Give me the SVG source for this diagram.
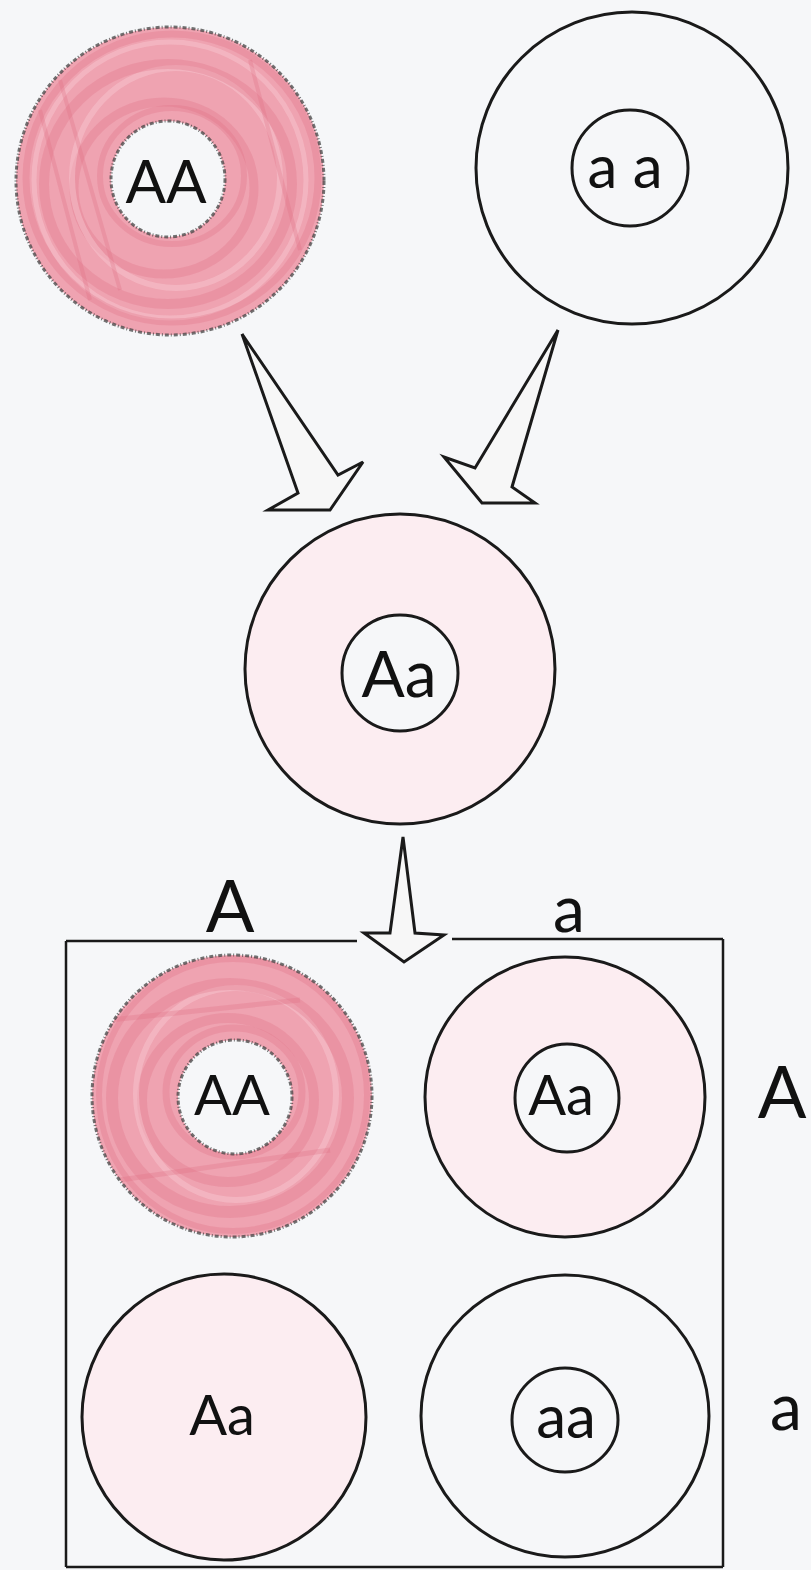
<svg xmlns="http://www.w3.org/2000/svg" width="811" height="1570" viewBox="0 0 811 1570">
<defs>
<style>
.bg{fill:#f6f7f9}
.ol{fill:none;stroke:#1a1a1a;stroke-width:3}
.pale{fill:#fcedf1;stroke:#1a1a1a;stroke-width:3}
.white{fill:#f6f7f9;stroke:#1a1a1a;stroke-width:3}
.red{fill:#efa3b1;fill-rule:evenodd}
.crayon{fill:none;stroke:#de6a80;stroke-opacity:.28}
.hl{fill:none;stroke:#f8c9d2;stroke-opacity:.45}
.rough{fill:none;stroke:#444;stroke-width:3;stroke-dasharray:4 2 1 2;stroke-opacity:.75}
.arrow{fill:#f7f7f7;stroke:#1a1a1a;stroke-width:3;stroke-linejoin:miter}
.line{stroke:#1a1a1a;stroke-width:2.5;fill:none}
.t{font-family:Lato,"Open Sans","Liberation Sans",sans-serif;font-weight:400;fill:#111;text-anchor:middle}
</style>
<clipPath id="c1"><path d="M16,181a154,154 0 1,0 308,0a154,154 0 1,0 -308,0ZM111,179a57,58 0 1,0 114,0a57,58 0 1,0 -114,0Z" clip-rule="evenodd"/></clipPath>
<clipPath id="c2"><path d="M92,1096a140,141 0 1,0 280,0a140,141 0 1,0 -280,0ZM178,1097a57,57 0 1,0 114,0a57,57 0 1,0 -114,0Z" clip-rule="evenodd"/></clipPath>
</defs>
<rect class="bg" x="0" y="0" width="811" height="1570"/>

<g id="parent-AA">
<path class="red" d="M16,181a154,154 0 1,0 308,0a154,154 0 1,0 -308,0ZM111,179a57,58 0 1,0 114,0a57,58 0 1,0 -114,0Z"/>
<g clip-path="url(#c1)">
<ellipse class="crayon" cx="172" cy="176" rx="72" ry="68" stroke-width="6"/>
<ellipse class="crayon" cx="164" cy="188" rx="90" ry="86" stroke-width="9"/>
<ellipse class="hl" cx="176" cy="178" rx="104" ry="110" stroke-width="6"/>
<ellipse class="crayon" cx="168" cy="184" rx="124" ry="120" stroke-width="10"/>
<ellipse class="hl" cx="170" cy="180" rx="136" ry="138" stroke-width="5"/>
<ellipse class="crayon" cx="172" cy="178" rx="146" ry="144" stroke-width="7"/>
<path class="crayon" d="M40,110 L90,300 M60,80 L120,290 M250,60 L300,250" stroke-width="4"/>
</g>
<circle class="rough" cx="170" cy="181" r="154"/>
<ellipse class="rough" cx="168" cy="179" rx="57" ry="58"/>
<text class="t" x="166" y="203" font-size="60">AA</text>
</g>

<g id="parent-aa">
<circle class="ol" cx="632" cy="168" r="156"/>
<circle class="ol" cx="630" cy="168" r="58"/>
<text class="t" x="625" y="188" font-size="60">a a</text>
</g>

<g id="connectors">
<polygon class="arrow" points="242,334 338,475 363,462 330,510 268,510 298,493"/>
<polygon class="arrow" points="558,330 512,487 535,503 482,503 444,457 475,468"/>
<polygon class="arrow" points="403,837 415,933 444,935 404,962 364,933 390,933"/>
</g>

<g id="f1-Aa">
<circle class="pale" cx="400" cy="669" r="155"/>
<circle class="white" cx="400" cy="673" r="58"/>
<text class="t" x="399" y="697" font-size="64">Aa</text>
</g>

<g id="punnett-grid">
<line class="line" x1="66" y1="941" x2="357" y2="941"/>
<line class="line" x1="452" y1="939" x2="723" y2="939"/>
<line class="line" x1="66" y1="941" x2="66" y2="1567"/>
<line class="line" x1="723" y1="939" x2="723" y2="1567"/>
<line class="line" x1="66" y1="1567" x2="723" y2="1567"/>
<text class="t" x="230" y="932" font-size="72">A</text>
<text class="t" x="569" y="932" font-size="64">a</text>
<text class="t" x="782" y="1118" font-size="72">A</text>
<text class="t" x="786" y="1430" font-size="64">a</text>
</g>

<g id="offspring-AA">
<path class="red" d="M92,1096a140,141 0 1,0 280,0a140,141 0 1,0 -280,0ZM178,1097a57,57 0 1,0 114,0a57,57 0 1,0 -114,0Z"/>
<g clip-path="url(#c2)">
<ellipse class="crayon" cx="234" cy="1092" rx="68" ry="64" stroke-width="7"/>
<ellipse class="crayon" cx="228" cy="1100" rx="86" ry="82" stroke-width="10"/>
<ellipse class="hl" cx="236" cy="1094" rx="100" ry="106" stroke-width="6"/>
<ellipse class="crayon" cx="230" cy="1098" rx="118" ry="114" stroke-width="12"/>
<ellipse class="crayon" cx="233" cy="1095" rx="134" ry="136" stroke-width="6"/>
<path class="crayon" d="M110,1020 L300,1000 M120,1180 L330,1150" stroke-width="5"/>
</g>
<ellipse class="rough" cx="232" cy="1096" rx="140" ry="141"/>
<circle class="rough" cx="235" cy="1097" r="57"/>
<text class="t" x="232" y="1115" font-size="56">AA</text>
</g>

<g id="offspring-Aa-1">
<circle class="pale" cx="565" cy="1097" r="140"/>
<ellipse class="white" cx="567" cy="1098" rx="52" ry="54"/>
<text class="t" x="561" y="1115" font-size="56">Aa</text>
</g>

<g id="offspring-Aa-2">
<ellipse class="pale" cx="224" cy="1417" rx="142" ry="143"/>
<text class="t" x="222" y="1435" font-size="56">Aa</text>
</g>

<g id="offspring-aa">
<ellipse class="ol" cx="565" cy="1416" rx="144" ry="141"/>
<ellipse class="white" cx="565" cy="1420" rx="53" ry="52"/>
<text class="t" x="566" y="1438" font-size="60">aa</text>
</g>
</svg>
